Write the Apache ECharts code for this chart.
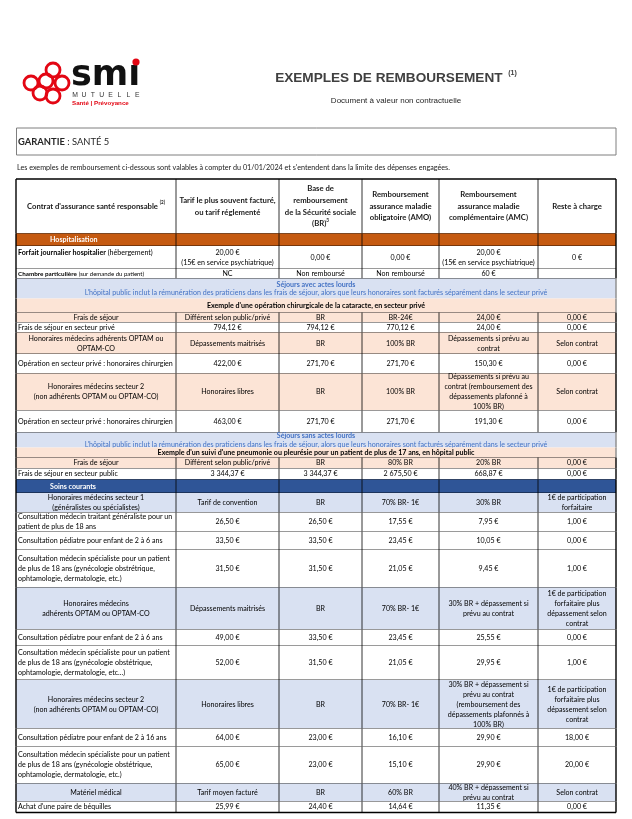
<!DOCTYPE html>
<html><head><meta charset="utf-8">
<script src="https://cdn.jsdelivr.net/npm/echarts@6/dist/echarts.min.js"></script>
<style>html,body{margin:0;padding:0;background:#fff}#c{width:632px;height:819px}</style>
</head><body><div id="c"></div>
<script>
// ---------------- DATA ----------------
const headers = [
  "{hb|Contrat d'assurance santé responsable} {sup|(2)}",
  "Tarif le plus souvent facturé,\nou tarif réglementé",
  "Base de\nremboursement\nde la Sécurité sociale\n{hb|(BR)}{sup|3}",
  "Remboursement\nassurance maladie\nobligatoire (AMO)",
  "Remboursement\nassurance maladie\ncomplémentaire (AMC)",
  "Reste à charge"
];
const bannerNote = "L'hôpital public inclut la rémunération des praticiens dans les frais de séjour, alors que leurs honoraires sont facturés séparément dans le secteur privé";
const rowLabels = [
  "Hospitalisation",
  "{b|Forfait journalier hospitalier} (hébergement)",
  "{bs|Chambre particulière} {s|(sur demande du patient)}",
  "{bl|Séjours avec actes lourds}\n{l|" + bannerNote + "}",
  "Exemple d'une opération chirurgicale de la cataracte, en secteur privé",
  "Frais de séjour",
  "Frais de séjour en secteur privé",
  "Honoraires médecins adhérents OPTAM ou\nOPTAM-CO",
  "Opération en secteur privé : honoraires chirurgien",
  "Honoraires médecins secteur 2\n(non adhérents OPTAM ou OPTAM-CO)",
  "Opération en secteur privé : honoraires chirurgien",
  "{bl|Séjours sans actes lourds}\n{l|" + bannerNote + "}",
  "Exemple d'un suivi d'une pneumonie ou pleurésie pour un patient de plus de 17 ans, en hôpital public",
  "Frais de séjour",
  "Frais de séjour en secteur public",
  "Soins courants",
  "Honoraires médecins secteur 1\n(généralistes ou spécialistes)",
  "Consultation médecin traitant généraliste pour un\npatient de plus de 18 ans",
  "Consultation pédiatre pour enfant de 2 à 6 ans",
  "Consultation médecin spécialiste pour un patient\nde plus de 18 ans (gynécologie obstrétrique,\nophtamologie, dermatologie, etc.)",
  "Honoraires médecins\nadhérents OPTAM ou OPTAM-CO",
  "Consultation pédiatre pour enfant de 2 à 6 ans",
  "Consultation médecin spécialiste pour un patient\nde plus de 18 ans (gynécologie obstétrique,\nophtamologie, dermatologie, etc...)",
  "Honoraires médecins secteur 2\n(non adhérents OPTAM ou OPTAM-CO)",
  "Consultation pédiatre pour enfant de 2 à 16 ans",
  "Consultation médecin spécialiste pour un patient\nde plus de 18 ans (gynécologie obstétrique,\nophtamologie, dermatologie, etc.)",
  "Matériel médical",
  "Achat d'une paire de béquilles"
];
const tarifFacture = ["", "20,00 €\n(15€ en service psychiatrique)", "NC", "", "", "Différent selon public/privé", "794,12 €", "Dépassements maitrisés", "422,00 €", "Honoraires libres", "463,00 €", "", "", "Différent selon public/privé", "3 344,37 €", "", "Tarif de convention", "26,50 €", "33,50 €", "31,50 €", "Dépassements maitrisés", "49,00 €", "52,00 €", "Honoraires libres", "64,00 €", "65,00 €", "Tarif moyen facturé", "25,99 €"];
const baseBR = ["", "0,00 €", "Non remboursé", "", "", "BR", "794,12 €", "BR", "271,70 €", "BR", "271,70 €", "", "", "BR", "3 344,37 €", "", "BR", "26,50 €", "33,50 €", "31,50 €", "BR", "33,50 €", "31,50 €", "BR", "23,00 €", "23,00 €", "BR", "24,40 €"];
const remboursementAMO = ["", "0,00 €", "Non remboursé", "", "", "BR-24€", "770,12 €", "100% BR", "271,70 €", "100% BR", "271,70 €", "", "", "80% BR", "2 675,50 €", "", "70% BR- 1€", "17,55 €", "23,45 €", "21,05 €", "70% BR- 1€", "23,45 €", "21,05 €", "70% BR- 1€", "16,10 €", "15,10 €", "60% BR", "14,64 €"];
const remboursementAMC = ["", "20,00 €\n(15€ en service psychiatrique)", "60 €", "", "", "24,00 €", "24,00 €", "Dépassements si prévu au\ncontrat", "150,30 €", "Dépassements si prévu au\ncontrat (remboursement des\ndépassements plafonné à\n100% BR)", "191,30 €", "", "", "20% BR", "668,87 €", "", "30% BR", "7,95 €", "10,05 €", "9,45 €", "30% BR + dépassement si\nprévu au contrat", "25,55 €", "29,95 €", "30% BR + dépassement si\nprévu au contrat\n(remboursement des\ndépassements plafonnés à\n100% BR)", "29,90 €", "29,90 €", "40% BR + dépassement si\nprévu au contrat", "11,35 €"];
const resteACharge = ["", "0 €", "", "", "", "0,00 €", "0,00 €", "Selon contrat", "0,00 €", "Selon contrat", "0,00 €", "", "", "0,00 €", "0,00 €", "", "1€ de participation\nforfaitaire", "1,00 €", "0,00 €", "1,00 €", "1€ de participation\nforfaitaire plus\ndépassement selon\ncontrat", "0,00 €", "1,00 €", "1€ de participation\nforfaitaire plus\ndépassement selon\ncontrat", "18,00 €", "20,00 €", "Selon contrat", "0,00 €"];

// ---------------- LAYOUT / STYLE ----------------
const ROW_KIND = ["header",
  "orange","data","data","banner","example","peach","data","peach","data","peach","data",
  "banner","example","peach","data","navy","lblue","data","data","data","lblue","data","data",
  "lblue","data","data","lblue","data"];
const ROW_H = [54.5,
  12.5,23,9.5,20,14,10,10,21.5,19.5,37,22,
  15,10,11,11,13.5,19.5,19,18.5,37.5,42,16.5,34,
  48.5,18,37,18,11];
const COL_EDGE = [0,160,263,346,423,522,600];
const TABLE_W = 600;
const ROW_TOP = [];
let acc = 0; ROW_H.forEach(h => { ROW_TOP.push(acc); acc += h; });
const TABLE_H = acc;
const BG = {header:"#ffffff", orange:"#C55A11", data:"#ffffff", banner:"#D9E1F2", example:"#FCE4D6",
  peach:"#FCE4D6", navy:"#2F5597", lblue:"#D9E1F2"};
const FONT = "Lato";
const TXT = "#000000";
const FS = 7.1;
const HFS = 7.7;
const LH = 10;

const table = [headers].concat(rowLabels.map((l, i) =>
  [l, tarifFacture[i], baseBR[i], remboursementAMO[i], remboursementAMC[i], resteACharge[i]]));

const rich = {
  hb:{fontFamily:FONT,fontWeight:"bold",fontSize:HFS,fill:"#1a1a1a",lineHeight:11.7},
  sup:{fontFamily:FONT,fontWeight:"bold",fontSize:4.6,fill:"#1a1a1a",lineHeight:11.7,verticalAlign:"top",padding:[0,0,4,0]},
  b:{fontFamily:FONT,fontWeight:"bold",fontSize:FS,fill:TXT,lineHeight:LH},
  bs:{fontFamily:FONT,fontWeight:"bold",fontSize:6.3,fill:TXT,lineHeight:LH},
  s:{fontFamily:FONT,fontSize:6.0,fill:TXT,lineHeight:LH},
  bl:{fontFamily:FONT,fontWeight:"bold",fontSize:FS,fill:"#4472C4",lineHeight:8.5},
  l:{fontFamily:FONT,fontSize:FS,fill:"#4472C4",lineHeight:8.5}
};

function renderItem(params, api) {
  const r = api.value(0);
  const kind = ROW_KIND[r];
  const y0 = ROW_TOP[r], y1 = y0 + ROW_H[r];
  const tl = api.coord([0, y0]), br = api.coord([TABLE_W, y1]);
  const ch = [];
  ch.push({type:"rect", shape:{x:tl[0], y:tl[1], width:br[0]-tl[0], height:br[1]-tl[1]}, style:{fill:BG[kind]}});
  const merged = kind === "banner" || kind === "example";
  const cells = table[r];
  const midY = (tl[1] + br[1]) / 2;
  if (merged) {
    ch.push({type:"text", style:{text:cells[0], x:(tl[0]+br[0])/2, y:midY, align:"center", verticalAlign:"middle",
      fontFamily:FONT, fontSize:FS, fontWeight:"bold", fill:TXT, lineHeight:9.5, rich:rich}});
  } else {
    for (let c = 0; c < 6; c++) {
      const t = cells[c];
      if (!t) continue;
      const xl = api.coord([COL_EDGE[c], y0])[0], xr = api.coord([COL_EDGE[c+1], y0])[0];
      let x = (xl + xr) / 2, align = "center", y = midY, vAlign = "middle";
      let fill = TXT, weight = "normal", fs = FS, lh = LH;
      if (kind === "header") { weight = "bold"; fs = HFS; lh = 11.7; fill = "#1a1a1a"; }
      if (c === 0) {
        if (kind === "data") { x = xl + 2; align = "left"; }
        if (kind === "orange" || kind === "navy") { x = xl + 34; align = "left"; fill = "#ffffff"; weight = "bold"; }
        if (r === 2) { y = tl[1] + 1.5; vAlign = "top"; }
      }
      ch.push({type:"text", style:{text:t, x:x, y:y, align:align, verticalAlign:vAlign,
        fontFamily:FONT, fontSize:fs, fontWeight:weight, fill:fill, lineHeight:lh, rich:rich}});
    }
    for (let c = 1; c < 6; c++) {
      const x = api.coord([COL_EDGE[c], y0])[0];
      ch.push({type:"line", shape:{x1:x, y1:tl[1], x2:x, y2:br[1]}, style:{stroke:"#000", lineWidth:0.8}});
    }
  }
  if (kind !== "banner") {
    const last = r === ROW_KIND.length - 1;
    ch.push({type:"line", shape:{x1:tl[0], y1:br[1], x2:br[0], y2:br[1]}, style:{stroke:"#000", lineWidth:last?1.4:0.8}});
  }
  if (r === 0) ch.push({type:"line", shape:{x1:tl[0], y1:tl[1], x2:br[0], y2:tl[1]}, style:{stroke:"#000", lineWidth:1.6}});
  ch.push({type:"line", shape:{x1:tl[0], y1:tl[1], x2:tl[0], y2:br[1]}, style:{stroke:"#000", lineWidth:1.4}});
  ch.push({type:"line", shape:{x1:br[0], y1:tl[1], x2:br[0], y2:br[1]}, style:{stroke:merged?"#8a8a8a":"#000", lineWidth:1.4}});
  return {type:"group", children:ch};
}

// ---------------- HEADER GRAPHICS ----------------
const RED = "#E30613";
const ringCenters = [[31,83],[53,70],[46,81],[62,83],[53,96],[40,93]];
const graphics = ringCenters.map(p => ({type:"circle", shape:{cx:p[0], cy:p[1], r:7}, style:{fill:"none", stroke:RED, lineWidth:2.8}}));
graphics.push({type:"text", style:{text:"smı", x:71, y:76, verticalAlign:"middle", font:"bold 35px 'DejaVu Sans'", fill:"#111"}});
graphics.push({type:"circle", shape:{cx:136, cy:62, r:3.6}, style:{fill:RED}});
"MUTUELLE".split("").forEach((ch, i) => graphics.push({type:"text", style:{text:ch, x:75 + i*8.9, y:95, align:"center", verticalAlign:"middle", font:"6.8px 'Liberation Sans'", fill:"#333"}}));
graphics.push({type:"text", style:{text:"Santé | Prévoyance", x:72, y:103.5, verticalAlign:"middle", font:"bold 6.2px 'Liberation Sans'", fill:RED}});
graphics.push({type:"text", style:{text:"EXEMPLES DE REMBOURSEMENT {sup|(1)}", x:396, y:78, align:"center", verticalAlign:"middle",
  font:"bold 13.6px 'Liberation Sans'", fill:"#404040",
  rich:{sup:{fontFamily:"Liberation Sans", fontWeight:"bold", fontSize:7, fill:"#404040", verticalAlign:"top", padding:[0,0,9,2]}}}});
graphics.push({type:"text", style:{text:"Document à valeur non contractuelle", x:396, y:101, align:"center", verticalAlign:"middle", font:"8px 'Liberation Sans'", fill:"#262626"}});
graphics.push({type:"rect", shape:{x:16.5, y:128, width:599.5, height:27}, style:{fill:"none", stroke:"#7f7f7f", lineWidth:1}});
graphics.push({type:"text", style:{text:"{b|GARANTIE} : SANTÉ 5", x:18, y:141.5, verticalAlign:"middle", font:"9.4px Lato", fill:"#262626",
  rich:{b:{fontFamily:"Lato", fontWeight:"bold", fontSize:9.4, fill:"#262626"}}}});
graphics.push({type:"text", style:{text:"Les exemples de remboursement ci-dessous sont valables à compter du 01/01/2024 et s'entendent dans la limite des dépenses engagées.",
  x:17, y:168, verticalAlign:"middle", font:"7.2px Lato", fill:"#1a1a1a"}});

const chart = echarts.init(document.getElementById("c"), null, {renderer:"canvas"});
chart.setOption({
  animation:false,
  backgroundColor:"#ffffff",
  grid:{left:16, top:179, width:TABLE_W, height:TABLE_H},
  xAxis:{type:"value", min:0, max:TABLE_W, show:false},
  yAxis:{type:"value", min:0, max:TABLE_H, inverse:true, show:false},
  graphic:graphics,
  series:[{type:"custom", renderItem:renderItem, clip:false,
    data:table.map((_, i) => [i, 0])}]
});
</script></body></html>
